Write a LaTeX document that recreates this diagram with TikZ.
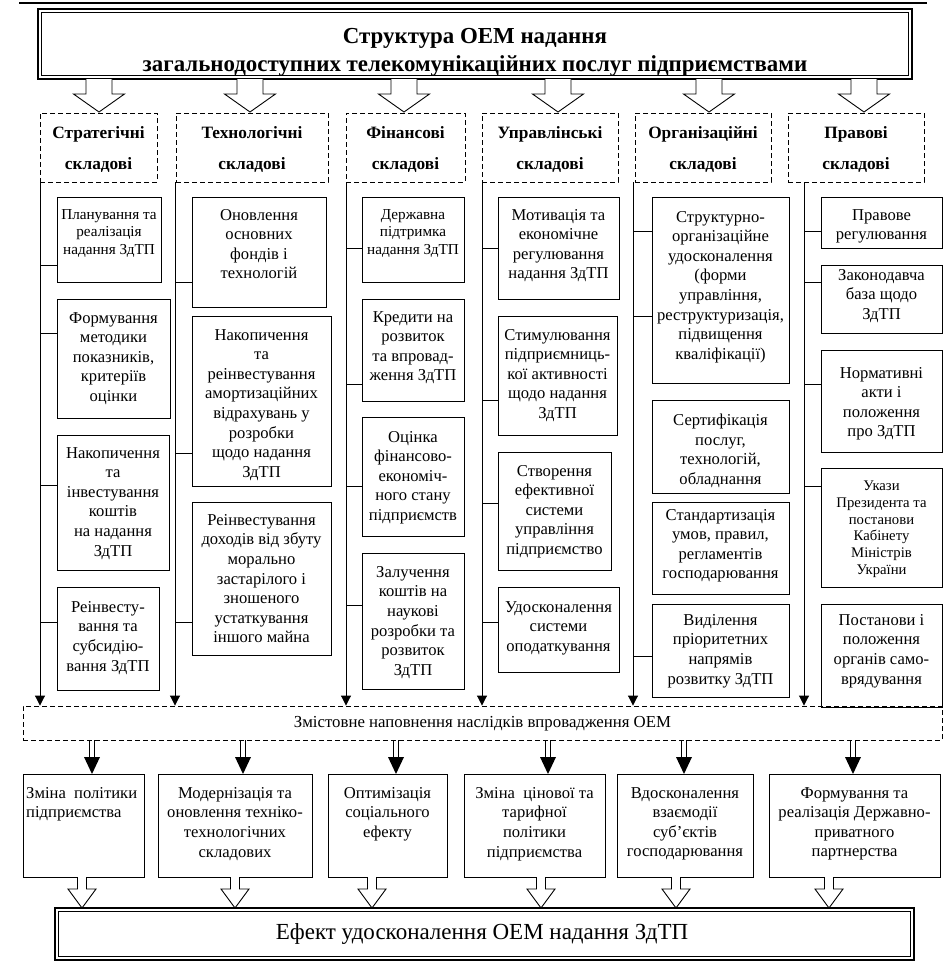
\documentclass[tikz,border=0pt]{standalone}
\usepackage{fontspec}
\setmainfont{Liberation Serif}
\usetikzlibrary{arrows.meta}
\tikzset{
  box/.style={draw, line width=0.9pt, inner sep=0pt},
  txt/.style={inner sep=0pt, align=center, anchor=north, font=\fontsize{16.6}{19.6}\selectfont},
  sm/.style={font=\fontsize{15.2}{17.5}\selectfont},
  xs/.style={font=\fontsize{14.7}{16.7}\selectfont},
  hdr/.style={draw, dash pattern=on 5pt off 3pt, line width=0.9pt, inner sep=0pt, align=center,
    font=\fontsize{17.3}{31}\selectfont\bfseries},
  vline/.style={line width=0.9pt, -{Triangle[length=10pt,width=10pt]}},
  conn/.style={line width=0.9pt},
}
\newcommand\bx[8]{%
  \pgfmathsetlengthmacro\mybw{(#4-#2)*1pt}%
  \pgfmathsetlengthmacro\mybh{(#5-#3)*1pt}%
  \node[box, minimum width=\mybw, minimum height=\mybh] (#1) at ({(#2+#4)/2},{(#3+#5)/2}) {};
  \node[txt,#7] (#1t) at ({(#2+#4)/2},{#6-6}) {#8};
}
\newcommand\hd[4]{%
  \pgfmathsetlengthmacro\mybw{(#3-#2)*1pt}%
  \node[hdr, minimum width=\mybw, minimum height=69pt] (#1) at ({(#2+#3)/2},147.5) {};
  \node[inner sep=0pt, align=center, font=\fontsize{17.3}{31}\selectfont\bfseries] (#1t) at ({(#2+#3)/2},149) {#4};
}
\newcommand\cn[3]{\draw[conn] (#1,#2) -- (#3.west |- 0,#2);}
\newcommand\hollow[6]{%
  \draw[line width=0.9pt, fill=white] ({#1-#4},#2) -- ({#1-#4},{#3-#6}) -- ({#1-#5},{#3-#6}) -- (#1,#3)
    -- ({#1+#5},{#3-#6}) -- ({#1+#4},{#3-#6}) -- ({#1+#4},#2);
}
\newcommand\dblarrow[1]{%
  \draw[line width=0.8pt] ({#1-2.5},740) -- ({#1-2.5},758) ({#1+2.5},740) -- ({#1+2.5},758);
  \fill ({#1-8},757) -- ({#1+8},757) -- (#1,774) -- cycle;
}
\begin{document}
\begin{tikzpicture}[x=1pt,y=-1pt]
\useasboundingbox (0,0) rectangle (948,962);
\fill[white] (0,0) rectangle (948,962);
% top rule
\draw[line width=1.2pt] (19,3) -- (927,3);
% title
\node[draw, line width=1.6pt, minimum width=874pt, minimum height=70pt, inner sep=0pt] (title) at (475,44) {};
\draw[line width=0.7pt] ([shift={(4,4)}]title.north west) rectangle ([shift={(-4,-4)}]title.south east);
\node[inner sep=0pt, align=center, font=\fontsize{22.9}{28}\selectfont\bfseries] (titlet) at (475,52)
  {Структура ОЕМ надання\\загальнодоступних телекомунікаційних послуг підприємствами};
% big hollow arrows
\foreach \xx in {99,250,404,558,709,864}{\hollow{\xx}{79}{112}{13}{25.5}{18}}
% headers
\hd{h1}{40}{157}{Стратегічні\\складові}
\hd{h2}{176}{328}{Технологічні\\складові}
\hd{h3}{346}{465}{Фінансові\\складові}
\hd{h4}{482}{618}{Управлінські\\складові}
\hd{h5}{635}{771}{Організаційні\\складові}
\hd{h6}{788}{924}{Правові\\складові}
% band
\node[draw, dash pattern=on 5pt off 3pt, line width=0.9pt, minimum width=919pt, minimum height=34pt,
  inner sep=0pt] (band) at (482.5,723) {};
\node[inner sep=0pt, font=\fontsize{16.8}{19.6}\selectfont] (bandt) at (482.5,724) {Змістовне наповнення наслідків впровадження ОЕМ};
% vertical lines
\draw[vline] (h1.south -| 40,0) -- (band.north -| 40,0);
\draw[vline] (h2.south -| 175,0) -- (band.north -| 175,0);
\draw[vline] (h3.south -| 346,0) -- (band.north -| 346,0);
\draw[vline] (h4.south -| 482,0) -- (band.north -| 482,0);
\draw[vline] (h5.south -| 633,0) -- (band.north -| 633,0);
\draw[vline] (h6.south -| 804,0) -- (band.north -| 804,0);
% column 1
\bx{b11}{57}{197}{161}{282}{215}{sm}{Планування та\\реалізація\\надання ЗдТП}
\bx{b12}{57}{299}{170}{418}{318}{}{Формування\\методики\\показників,\\критеріїв\\оцінки}
\bx{b13}{57}{435}{169}{570}{453}{}{Накопичення\\та\\інвестування\\коштів\\на надання\\ЗдТП}
\bx{b14}{57}{587}{159}{690}{607}{}{Реінвесту-\\вання та\\субсидію-\\вання ЗдТП}
\cn{40}{265}{b11}\cn{40}{333}{b12}\cn{40}{485}{b13}\cn{40}{622}{b14}
% column 2
\bx{b21}{192}{197}{326}{307}{215}{}{Оновлення\\основних\\фондів і\\технологій}
\bx{b22}{192}{316}{331}{486}{335}{}{Накопичення\\та\\реінвестування\\амортизаційних\\відрахувань у\\розробки\\щодо надання\\ЗдТП}
\bx{b23}{192}{502}{331}{655}{520}{}{Реінвестування\\доходів від збуту\\морально\\застарілого і\\зношеного\\устаткування\\іншого майна}
\cn{175}{282}{b21}\cn{175}{453}{b22}\cn{175}{622}{b23}
% column 3
\bx{b31}{362}{197}{464}{282}{215}{sm}{Державна\\підтримка\\надання ЗдТП}
\bx{b32}{362}{299}{464}{401}{317}{}{Кредити на\\розвиток\\та впровад-\\ження ЗдТП}
\bx{b33}{362}{417}{464}{536}{437}{}{Оцінка\\фінансово-\\економіч-\\ного стану\\підприємств}
\bx{b34}{362}{553}{464}{689}{572}{}{Залучення\\коштів на\\наукові\\розробки та\\розвиток\\ЗдТП}
\cn{346}{248}{b31}\cn{346}{384}{b32}\cn{346}{486}{b33}\cn{346}{605}{b34}
% column 4
\bx{b41}{498}{197}{619}{299}{215}{}{Мотивація та\\економічне\\регулювання\\надання ЗдТП}
\bx{b42}{498}{316}{617}{435}{335}{}{Стимулювання\\підприємниць-\\кої активності\\щодо надання\\ЗдТП}
\bx{b43}{498}{452}{611}{570}{471}{}{Створення\\ефективної\\системи\\управління\\підприємство}
\bx{b44}{498}{587}{619}{672}{607}{}{Удосконалення\\системи\\оподаткування}
\cn{482}{248}{b41}\cn{482}{400}{b42}\cn{482}{503}{b43}\cn{482}{622}{b44}
% column 5
\bx{b51}{652}{197}{789}{383}{217}{}{Структурно-\\організаційне\\удосконалення\\(форми\\управління,\\реструктуризація,\\підвищення\\кваліфікації)}
\bx{b52}{652}{400}{789}{493}{420}{}{Сертифікація\\послуг,\\технологій,\\обладнання}
\bx{b53}{652}{502}{789}{594}{515}{}{Стандартизація\\умов, правил,\\регламентів\\господарювання}
\bx{b54}{652}{604}{789}{697}{620}{}{Виділення\\пріоритетних\\напрямів\\розвитку ЗдТП}
\cn{633}{231}{b51}\cn{633}{316}{b51}\cn{633}{656}{b54}
% column 6
\bx{b61}{821}{197}{942}{248}{215}{}{Правове\\регулювання}
\bx{b62}{821}{265}{942}{333}{275}{}{Законодавча\\база щодо\\ЗдТП}
\bx{b63}{821}{350}{942}{452}{373}{}{Нормативні\\акти і\\положення\\про ЗдТП}
\bx{b64}{821}{468}{942}{587}{487}{xs}{Укази\\Президента та\\постанови\\Кабінету\\Міністрів\\України}
\bx{b65}{821}{604}{942}{707}{620}{}{Постанови і\\положення\\органів само-\\врядування}
\cn{804}{231}{b61}\cn{804}{282}{b62}\cn{804}{384}{b63}\cn{804}{486}{b64}
% double arrows
\foreach \xx in {92,243,396,548,684,853}{\dblarrow{\xx}}
% bottom boxes
\node[box, minimum width=121pt, minimum height=103pt] (c1) at (83.5,825.5) {};
\node[txt, align=left, anchor=north west] (c1t) at (26,787) {Зміна\ \ політики\\підприємства};
\bx{c2}{158}{774}{312}{877}{793}{}{Модернізація та\\оновлення техніко-\\технологічних\\складових}
\bx{c3}{328}{774}{447}{877}{793}{}{Оптимізація\\соціального\\ефекту}
\bx{c4}{464}{774}{605}{877}{793}{}{Зміна\ \ цінової та\\тарифної\\політики\\підприємства}
\bx{c5}{617}{774}{753}{877}{793}{}{Вдосконалення\\взаємодії\\суб’єктів\\господарювання}
\bx{c6}{769}{774}{940}{877}{793}{}{Формування та\\реалізація Державно-\\приватного\\партнерства}
% small hollow arrows
\foreach \xx in {82,235,372,541,676,829}{\hollow{\xx}{877}{908}{4.5}{14}{19}}
% final box
\node[draw, line width=1.6pt, minimum width=859pt, minimum height=52pt, inner sep=0pt] (final) at (484.5,934) {};
\draw[line width=0.7pt] ([shift={(4,4)}]final.north west) rectangle ([shift={(-4,-4)}]final.south east);
\node[inner sep=0pt, font=\fontsize{23}{26}\selectfont] (finalt) at (482,934) {Ефект удосконалення ОЕМ надання ЗдТП};
\end{tikzpicture}
\end{document}
